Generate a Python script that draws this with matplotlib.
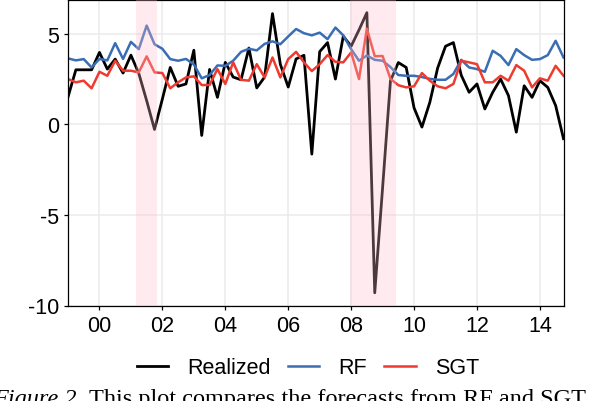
import matplotlib
matplotlib.use('Agg')
import matplotlib.pyplot as plt
import numpy as np

# quarterly observations, 1999Q1 .. 2014Q4
start_year = 1999
realized = [1.5, 3.0, 3.0, 3.0, 3.96, 3.04, 3.59, 2.82, 3.81, 2.8,
            1.3, -0.29, 1.39, 3.13, 2.09, 2.22, 4.08, -0.62, 3.02, 1.48,
            3.41, 2.6, 2.45, 4.2, 2.0, 2.6, 6.1, 3.3, 2.05, 3.6,
            3.8, -1.65, 4.0, 4.5, 2.49, 4.85, 4.3, 5.2, 6.15, -9.3,
            -3.5, 2.4, 3.4, 3.13, 0.9, -0.16, 1.2, 3.1, 4.3, 4.5,
            2.7, 1.76, 2.22, 0.84, 1.76, 2.49, 1.58, -0.44, 2.12, 1.48,
            2.4, 2.03, 1.03, -0.8]
rf = [3.63, 3.52, 3.59, 3.13, 3.6, 3.52, 4.47, 3.6, 4.54, 4.14,
      5.44, 4.41, 4.16, 3.59, 3.5, 3.6, 3.3, 2.53, 2.71, 3.24,
      3.22, 3.5, 3.99, 4.16, 4.07, 4.43, 4.57, 4.41, 4.84, 5.25,
      5.02, 4.9, 5.05, 4.69, 5.33, 4.9, 4.14, 3.5, 3.79, 3.55,
      3.5, 3.15, 2.71, 2.67, 2.67, 2.6, 2.5, 2.45, 2.45, 2.77,
      3.55, 3.13, 3.04, 2.89, 4.05, 3.77, 3.26, 4.14, 3.81, 3.55,
      3.59, 3.81, 4.6, 3.68]
sgt = [2.49, 2.31, 2.4, 1.98, 2.89, 2.67, 3.5, 2.95, 2.95, 2.86,
       3.74, 2.86, 2.82, 1.98, 2.31, 2.58, 2.64, 2.16, 2.16, 3.04,
       2.22, 3.41, 2.45, 2.4, 3.31, 2.58, 3.68, 2.58, 3.59, 3.99,
       3.41, 2.93, 3.31, 3.81, 3.44, 3.41, 3.96, 2.49, 5.27, 3.75,
       3.76, 2.5, 2.15, 2.03, 2.09, 2.82, 2.4, 2.09, 1.98, 2.22,
       3.5, 3.41, 3.31, 2.31, 2.31, 2.67, 2.4, 3.26, 2.95, 2.03,
       2.53, 2.4, 3.22, 2.67]
recessions = [(2001.17, 2001.83), (2007.97, 2009.42)]
xtick_years = [2000, 2002, 2004, 2006, 2008, 2010, 2012, 2014]
xtick_labels = ['00', '02', '04', '06', '08', '10', '12', '14']
ytick_values = [-10, -5, 0, 5]


def main():
    """Realized vs forecast plot with recession shading"""
    plt.rcParams['font.family'] = ['Liberation Sans', 'DejaVu Sans']
    plt.rcParams['axes.unicode_minus'] = False
    fig = plt.figure(figsize=(5.98, 4.02), dpi=100)
    ax = fig.add_axes([68 / 598, 1 - 306.5 / 402,
                       (563.5 - 68) / 598, (306.5 - 1) / 402])

    t = start_year + np.arange(len(realized)) * 0.25
    ax.plot(t, realized, color='black', lw=2.0, label='Realized')
    ax.plot(t, rf, color='#3B6DB4', lw=1.8, label='RF')
    ax.plot(t, sgt, color='#EE3B2F', lw=1.8, label='SGT')

    # shading goes on top of the lines
    for a, b in recessions:
        ax.axvspan(a, b, color='pink', alpha=0.3, lw=0, zorder=5)

    ax.set_xlim(t[0], t[-1])
    ax.set_ylim(-10, 6.85)
    ax.set_xticks(xtick_years)
    ax.set_xticklabels(xtick_labels)
    ax.set_yticks(ytick_values)
    ax.tick_params(labelsize=15.5, length=3, width=0.9, colors='black')
    ax.grid(True, color='#EBEBEB', lw=1.1)
    ax.set_axisbelow(True)
    for s in ax.spines.values():
        s.set_linewidth(0.9)

    fig.legend(loc='center', bbox_to_anchor=(308 / 598, 1 - 369 / 402),
               ncol=3, frameon=False, fontsize=15.5, handlelength=1.45,
               handletextpad=0.9, columnspacing=0.8)

    # caption, cut off at the bottom like in the paper
    fig.canvas.draw()
    r = fig.canvas.get_renderer()
    cap_y = -3.5 / 402
    t1 = fig.text(-7 / 598, cap_y, 'Figure 2.', family='Liberation Serif',
                  style='italic', fontsize=17.5, va='baseline')
    bb = t1.get_window_extent(renderer=r)
    fig.text((bb.x1 + 6) / 598, cap_y,
             'This plot compares the forecasts from RF and SGT',
             family='Liberation Serif', fontsize=17.5, va='baseline')

    fig.savefig('out.png', dpi=100)


if __name__ == "__main__":
    main()
